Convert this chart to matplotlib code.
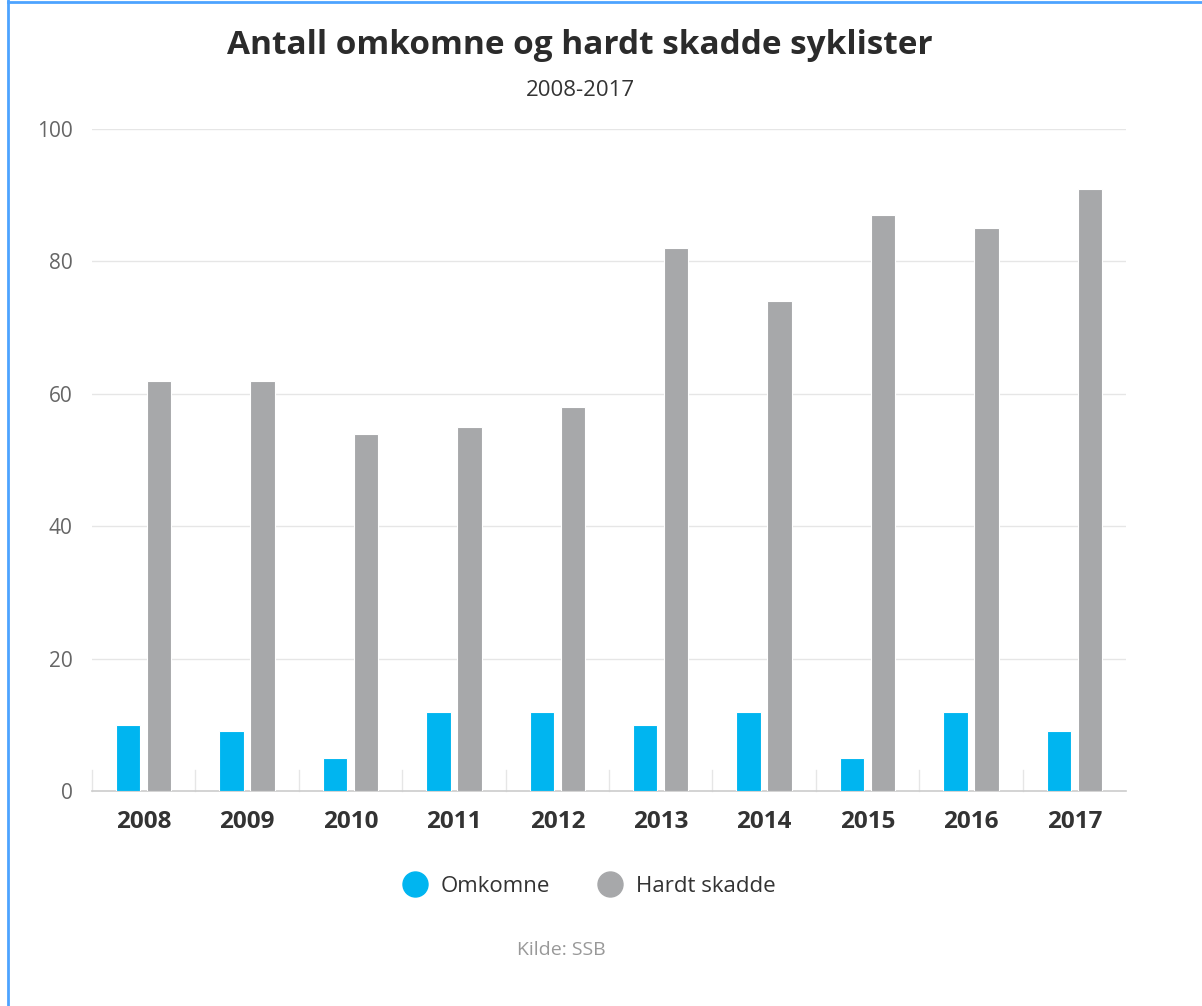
import numpy as np
import matplotlib
matplotlib.use("Agg")
import matplotlib.pyplot as plt
from matplotlib.lines import Line2D

years = ["2008", "2009", "2010", "2011", "2012", "2013", "2014", "2015", "2016", "2017"]
omkomne = [10, 9, 5, 12, 12, 10, 12, 5, 12, 9]
hardt_skadde = [62, 62, 54, 55, 58, 82, 74, 87, 85, 91]
y_ticks = [0, 20, 40, 60, 80, 100]

BLUE = "#00b5f0"
GREY = "#a7a8aa"
FONT = "Open Sans"

plt.rcParams["font.family"] = [FONT, "DejaVu Sans"]

W, H = 1202, 1006
fig = plt.figure(figsize=(W / 100, H / 100), dpi=100)
fig.patch.set_facecolor("white")

ax = fig.add_axes([92 / W, 1 - 791 / H, (1126 - 92) / W, (791 - 129) / H])
x = np.arange(len(years))
bw = 0.235
ax.bar(x - 0.15, omkomne, width=bw, color=BLUE, edgecolor="white", linewidth=0.8, zorder=3)
ax.bar(x + 0.15, hardt_skadde, width=bw, color=GREY, edgecolor="white", linewidth=0.8, zorder=3)

ax.set_xlim(-0.5, len(years) - 0.5)
ax.set_ylim(0, 100)
ax.set_yticks(y_ticks)
ax.set_yticklabels([str(v) for v in y_ticks], fontsize=15, color="#666666")
ax.set_xticks(x)
ax.set_xticklabels(years, fontsize=17.5, fontweight="bold", color="#333333")
ax.tick_params(axis="both", length=0)
ax.tick_params(axis="y", pad=14)
ax.tick_params(axis="x", pad=14)

for v in y_ticks[1:]:
    ax.axhline(v, color="#e6e6e6", linewidth=1, zorder=1)
for s in ["top", "right", "left"]:
    ax.spines[s].set_visible(False)
ax.spines["bottom"].set_color("#cccccc")
ax.spines["bottom"].set_linewidth(1.2)

# short category separators at the base
for k in range(len(years)):
    ax.plot([k - 0.5, k - 0.5], [0, 3.1], color="#e6e6e6", linewidth=1, zorder=1, clip_on=False)

fig.text(580 / W, 1 - 45 / H, "Antall omkomne og hardt skadde syklister",
         ha="center", va="center", fontsize=24, fontweight="bold", color="#2b2b2b")
fig.text(580 / W, 1 - 90 / H, "2008-2017", ha="center", va="center",
         fontsize=16, color="#333333")

handles = [
    Line2D([], [], marker="o", linestyle="none", markersize=18, color=BLUE, label="Omkomne"),
    Line2D([], [], marker="o", linestyle="none", markersize=18, color=GREY, label="Hardt skadde"),
]
fig.legend(handles=handles, loc="center", bbox_to_anchor=(584 / W, 1 - 886 / H),
           ncol=2, frameon=False, fontsize=16, labelcolor="#333333",
           handletextpad=0.15, columnspacing=1.7)

fig.text(561 / W, 1 - 950 / H, "Kilde: SSB", ha="center", va="center",
         fontsize=14, color="#999999")

# thin blue frame on the top and left edges
fig.add_artist(Line2D([7.5 / W, 7.5 / W], [0, 1], color="#4da3ff", linewidth=2, transform=fig.transFigure))
fig.add_artist(Line2D([7.5 / W, 1], [1 - 2 / H, 1 - 2 / H], color="#4da3ff", linewidth=2, transform=fig.transFigure))

fig.savefig("out.png", dpi=100, facecolor="white")
